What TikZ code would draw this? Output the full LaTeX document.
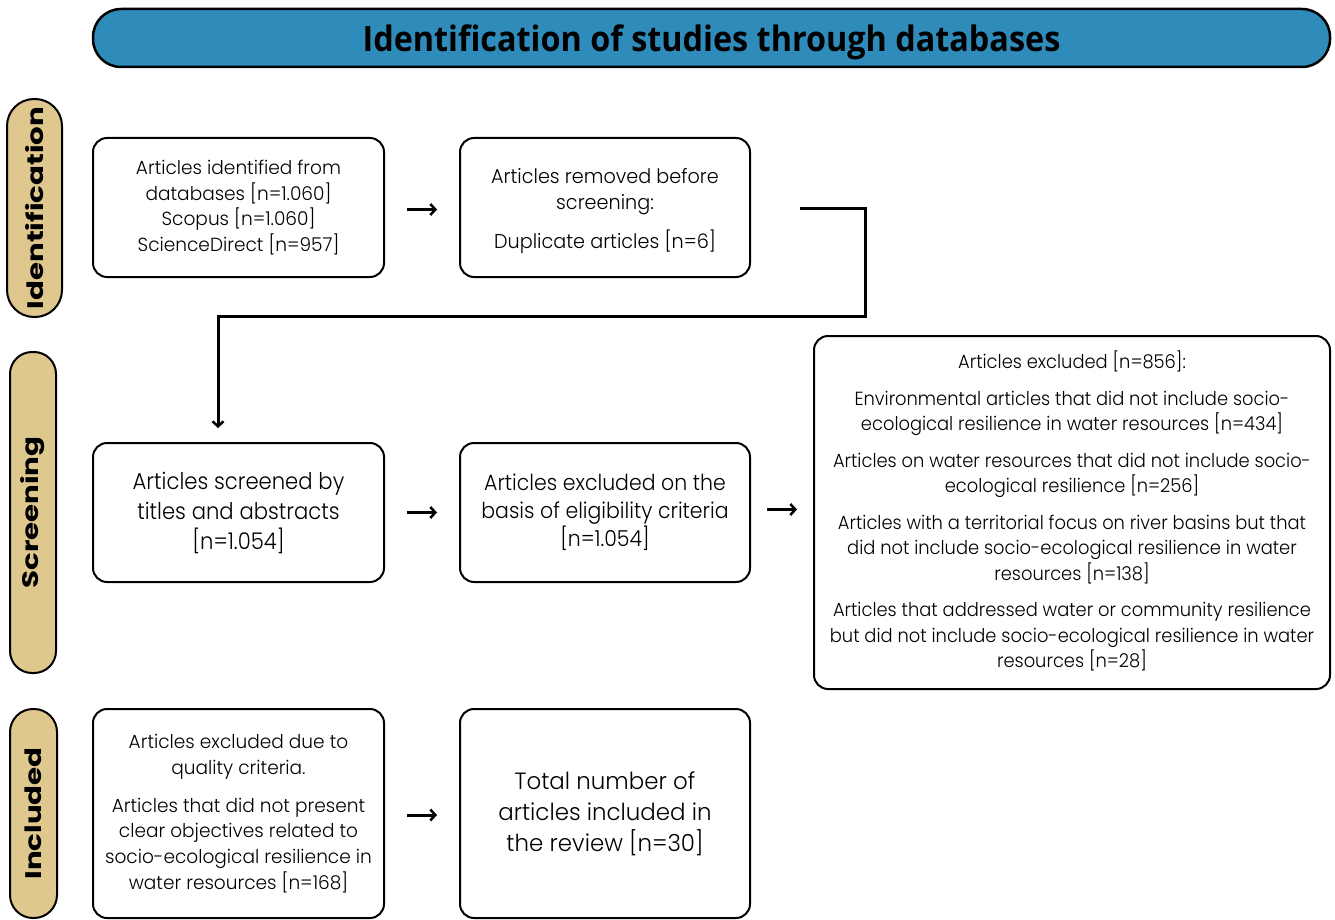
\documentclass[tikz,border=0pt]{standalone}
\usepackage{fontspec}
\setmainfont{Poppins}[UprightFont=* Light, BoldFont=* Bold]
\newfontfamily\titlefont{Open Sans}
\usetikzlibrary{arrows.meta}
\definecolor{banner}{HTML}{2E8BBA}
\definecolor{phase}{HTML}{DFC88E}
\begin{document}
\begin{tikzpicture}[x=1pt,y=-1pt,
  box/.style={draw, line width=2pt, rounded corners=14pt, align=center, inner sep=0pt},
  pill/.style={draw, line width=2pt, fill=phase, rotate=90, inner sep=0pt,
    font=\bfseries\addfontfeature{FakeStretch=1.3}\fontsize{22.5}{24}\selectfont},
  arr/.style={line width=3pt, -{Straight Barb[length=5pt,width=11pt,line width=2.5pt]}},
  conn/.style={line width=3pt, -{Straight Barb[length=5pt,width=11pt,line width=2.5pt]}},
  small/.style={font=\addfontfeature{FakeStretch=0.975}\fontsize{19}{25.7}\selectfont}]
\clip (0,0) rectangle (1335,920);
\useasboundingbox (0,0) rectangle (1335,920);
\fill[white] (0,0) rectangle (1335,920);

% title banner
\node[draw, line width=2.5pt, fill=banner, rounded corners=28pt, minimum width=1237pt,
  minimum height=58pt, inner sep=0pt, text depth=0pt,
  font=\titlefont\bfseries\addfontfeature{FakeStretch=0.925}\fontsize{35}{40}\selectfont]
  (title) at (711.5,38) {Identification of studies through databases};

% phases
\node[pill, minimum width=218pt, minimum height=55pt, rounded corners=27pt] (p1) at (34.5,208) {Identification};
\node[pill, minimum width=321pt, minimum height=46pt, rounded corners=22pt] (p2) at (33,512.5) {Screening};
\node[pill, minimum width=209pt, minimum height=47pt, rounded corners=23pt] (p3) at (33.5,813.5) {Included};

% row 1
\node[box, small, minimum width=291pt, minimum height=139pt] (A) at (238.5,207.5)
  {Articles identified from\\databases [n=1.060]\\Scopus [n=1.060]\\ScienceDirect [n=957]};
\node[box, minimum width=290pt, minimum height=139pt,
  label={[align=center, yshift=-3.5pt, font=\addfontfeature{FakeStretch=0.96}\fontsize{20}{26}\selectfont]center:{Articles removed before\\screening:\\[13pt]Duplicate articles [n=6]}}] (B) at (605,207.5) {};

% row 2
\node[box, font=\addfontfeature{FakeStretch=0.92}\fontsize{23}{30}\selectfont,
  minimum width=291pt, minimum height=139pt] (C) at (238.5,512.5)
  {Articles screened by\\titles and abstracts\\{[n=1.054]}};
\node[box, font=\addfontfeature{FakeStretch=0.93}\fontsize{22}{28}\selectfont,
  minimum width=290pt, minimum height=139pt] (D) at (605,512.5)
  {Articles excluded on the\\basis of eligibility criteria\\{[n=1.054]}};
\node[box, minimum width=516pt, minimum height=353pt,
  label={[align=center, yshift=1.5pt, font=\addfontfeature{FakeStretch=0.94}\fontsize{19}{25.5}\selectfont]center:{Articles excluded [n=856]:\\[11pt]
   Environmental articles that did not include socio-\\ecological resilience in water resources [n=434]\\[11pt]
   Articles on water resources that did not include socio-\\ecological resilience [n=256]\\[11pt]
   Articles with a territorial focus on river basins but that\\did not include socio-ecological resilience in water\\resources [n=138]\\[11pt]
   Articles that addressed water or community resilience\\but did not include socio-ecological resilience in water\\resources [n=28]}}] (E) at (1072,512.5) {};

% row 3
\node[box, small, minimum width=291pt, minimum height=209pt] (F) at (238.5,813.5)
  {Articles excluded due to\\quality criteria.\\[12pt]Articles that did not present\\clear objectives related to\\socio-ecological resilience in\\water resources [n=168]};
\node[box, font=\addfontfeature{FakeStretch=0.975}\fontsize{23.5}{31}\selectfont,
  minimum width=290pt, minimum height=209pt] (G) at (605,813.5)
  {Total number of\\articles included in\\the review [n=30]};

% connectors
\draw[arr, shorten <=22pt, shorten >=22pt] ([yshift=-2pt]A.east) -- ([yshift=-2pt]A.east -| B.west);
\draw[arr, shorten <=22pt, shorten >=22pt] (C) -- (D);
\draw[arr, shorten <=16pt, shorten >=16pt] ([yshift=3pt]D.east) -- ([yshift=3pt]D.east -| E.west);
\draw[arr, shorten <=22pt, shorten >=22pt] ([yshift=-1.5pt]F.east) -- ([yshift=-1.5pt]F.east -| G.west);
\coordinate (s) at (800,208);
\coordinate (bend) at (865,316);
\draw[conn, line cap=butt, shorten >=14pt] (s) -| (bend) -| ([xshift=-20.5pt]C.north);
\end{tikzpicture}
\end{document}
